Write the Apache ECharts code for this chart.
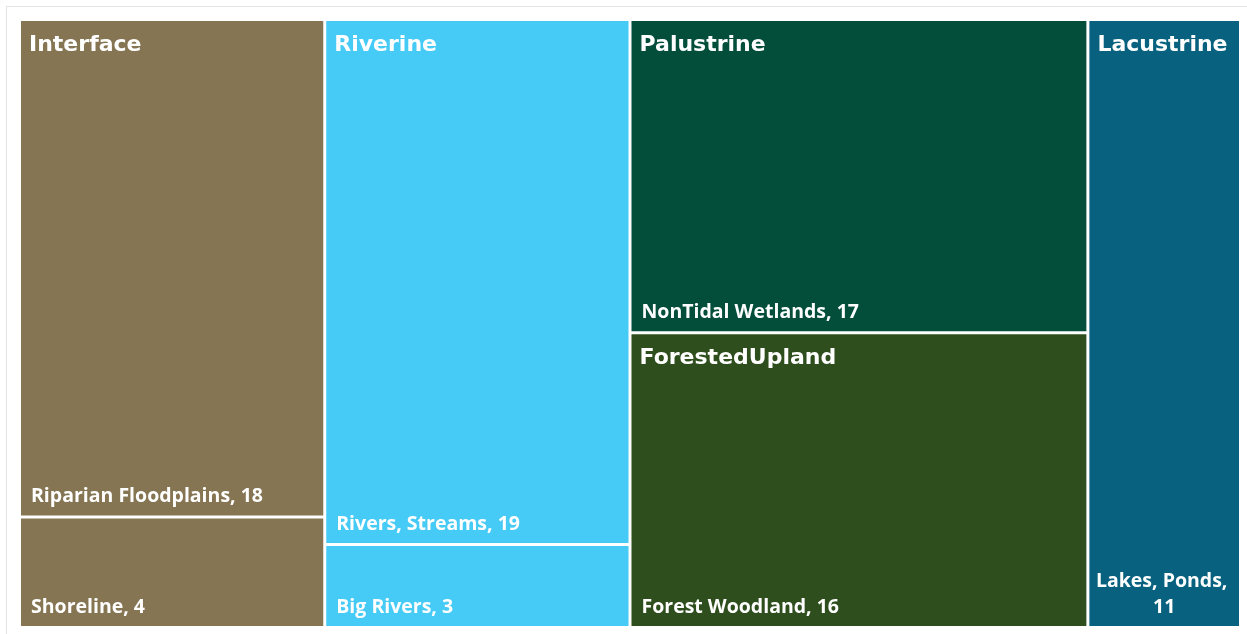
<!DOCTYPE html>
<html>
<head>
<meta charset="utf-8">
<script src="https://cdn.jsdelivr.net/npm/echarts@6/dist/echarts.min.js"></script>
<style>
  html, body { margin: 0; padding: 0; background: #ffffff; }
  #frame { position: absolute; left: 6px; top: 6px; width: 1240px; height: 640px; border-top: 1px solid #e3e3e3; border-left: 1px solid #e3e3e3; }
  #chart { position: absolute; left: 0; top: 0; width: 1247px; height: 634px; }
</style>
</head>
<body>
<div id="frame"></div>
<div id="chart"></div>
<script>
// ---- data ----
const groups = ['Interface', 'Riverine', 'Palustrine', 'ForestedUpland', 'Lacustrine'];
const leafGroups = ['Interface', 'Interface', 'Riverine', 'Riverine', 'Palustrine', 'ForestedUpland', 'Lacustrine'];
const leafNames = ['Riparian Floodplains', 'Shoreline', 'Rivers, Streams', 'Big Rivers', 'NonTidal Wetlands', 'Forest Woodland', 'Lakes, Ponds'];
const leafValues = [18, 4, 19, 3, 17, 16, 11];

// ---- styles ----
const palette = ['#857552', '#46CAF6', '#034D3B', '#2E4E1D', '#08627F'];

const groupTotals = groups.map(g => leafValues.reduce((s, v, i) => s + (leafGroups[i] === g ? v : 0), 0));

const hierData = groups.map((g, gi) => ({
  name: g,
  value: groupTotals[gi],
  itemStyle: { color: palette[gi] },
  children: leafNames.map((n, i) => ({ n, i })).filter(o => leafGroups[o.i] === g).map(o => {
    const node = { name: o.n, value: leafValues[o.i] };
    if (g === 'Lacustrine') {
      node.label = { position: 'insideBottom', align: 'center', overflow: 'break', distance: 8, offset: [0, 2] };
    }
    return node;
  })
}));

const overlayData = groups.map((g, gi) => ({ name: g, value: groupTotals[gi] }));

const box = { left: 21, top: 21, width: 1218, height: 605 };
const clear = 'rgba(0,0,0,0)';

const chart = echarts.init(document.getElementById('chart'), null, { renderer: 'canvas' });
chart.setOption({
  backgroundColor: 'transparent',
  animation: false,
  tooltip: { show: false },
  series: [
    Object.assign({
      type: 'treemap',
      z: 2,
      roam: false,
      nodeClick: false,
      squareRatio: 1,
      sort: false,
      breadcrumb: { show: false },
      data: hierData,
      levels: [
        { itemStyle: { gapWidth: 3, borderWidth: 0 } },
        { itemStyle: { gapWidth: 3, borderWidth: 0 } },
        { itemStyle: { gapWidth: 3, borderWidth: 0 },
          label: {
            show: true,
            position: 'insideBottomLeft',
            distance: 10,
            offset: [0, 4],
            padding: 0,
            color: '#ffffff',
            fontFamily: 'Open Sans',
            fontWeight: 'bold',
            fontSize: 19.5,
            lineHeight: 26,
            overflow: 'break',
            formatter: p => p.name + ', ' + p.value
          } }
      ]
    }, box),
    Object.assign({
      type: 'treemap',
      z: 20,
      roam: false,
      nodeClick: false,
      silent: true,
      squareRatio: 1,
      sort: false,
      breadcrumb: { show: false },
      data: overlayData,
      itemStyle: { color: clear, borderColor: clear, borderWidth: 0 },
      levels: [
        { itemStyle: { gapWidth: 3, borderWidth: 0, color: clear, borderColor: clear } },
        { itemStyle: { gapWidth: 3, borderWidth: 0, color: clear, borderColor: clear },
          label: {
            show: true,
            position: 'insideTopLeft',
            distance: 8,
            offset: [0, 5],
            padding: 0,
            color: '#ffffff',
            fontFamily: 'DejaVu Sans',
            fontWeight: 'bold',
            fontSize: 22,
            formatter: p => p.name
          } }
      ]
    }, box)
  ]
});
</script>
</body>
</html>
